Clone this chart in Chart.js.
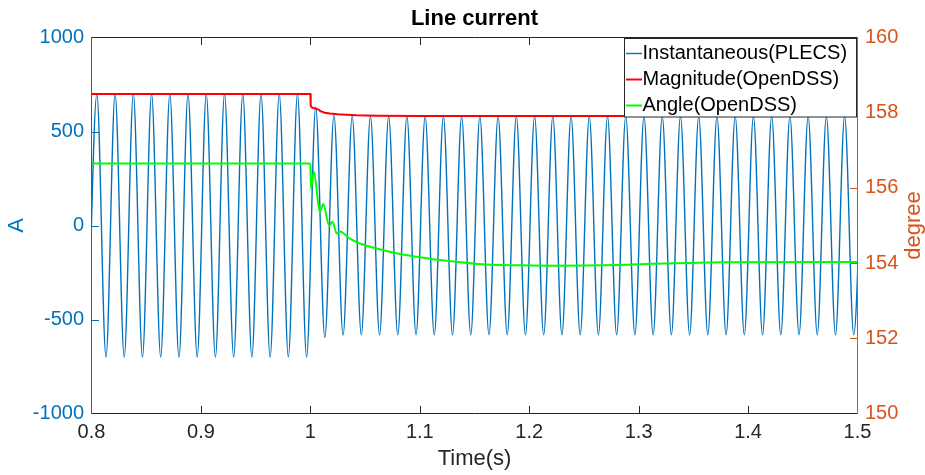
<!DOCTYPE html>
<html lang="en">
<head>
  <meta charset="UTF-8" />
  <title>Line current</title>
  <script src="https://cdn.jsdelivr.net/npm/chart.js"></script>
  <style>
    body {
      margin: 0;
      background: #ffffff;
    }
    canvas {
      display: block;
    }
  </style>
</head>
<body>
  <canvas id="currentChart" width="925" height="475"></canvas>

  <script>
    // instantaneous current (PLECS): one point per peak / trough, 60 Hz
    const waveTimes = [
      0.79657, 0.80490, 0.81323, 0.82157, 0.82990, 0.83823, 0.84657, 0.85490, 0.86323, 0.87157, 0.87990, 0.88823,
      0.89657, 0.90490, 0.91323, 0.92157, 0.92990, 0.93823, 0.94657, 0.95490, 0.96323, 0.97157, 0.97990, 0.98823,
      0.99657, 1.00490, 1.01323, 1.02157, 1.02990, 1.03823, 1.04657, 1.05490, 1.06323, 1.07157, 1.07990, 1.08823,
      1.09657, 1.10490, 1.11323, 1.12157, 1.12990, 1.13823, 1.14657, 1.15490, 1.16323, 1.17157, 1.17990, 1.18823,
      1.19657, 1.20490, 1.21323, 1.22157, 1.22990, 1.23823, 1.24657, 1.25490, 1.26323, 1.27157, 1.27990, 1.28823,
      1.29657, 1.30490, 1.31323, 1.32157, 1.32990, 1.33823, 1.34657, 1.35490, 1.36323, 1.37157, 1.37990, 1.38823,
      1.39657, 1.40490, 1.41323, 1.42157, 1.42990, 1.43823, 1.44657, 1.45490, 1.46323, 1.47157, 1.47990, 1.48823,
      1.49657, 1.50490
    ];
    const waveValues = [
      -700, 700, -700, 700, -700, 700, -700, 700, -700, 700, -700, 700,
      -700, 700, -700, 700, -700, 700, -700, 700, -700, 700, -700, 700,
      -700, 630, -596, 587, -583, 582, -582, 582, -582, 582, -582, 582,
      -582, 582, -582, 582, -582, 582, -582, 582, -582, 582, -582, 582,
      -582, 582, -582, 582, -582, 582, -582, 582, -582, 582, -582, 582,
      -582, 582, -582, 582, -582, 582, -582, 582, -582, 582, -582, 582,
      -582, 582, -582, 582, -582, 582, -582, 582, -582, 582, -582, 582,
      -582, 582
    ];

    // current magnitude (OpenDSS), A
    const magTimes = [0.8, 1.0, 1.0003, 1.0012, 1.0042, 1.0070, 1.0088, 1.0130, 1.0179, 1.0250, 1.0331, 1.0423, 1.0600, 1.1000, 1.5];
    const magValues = [700, 700, 640, 628, 622, 618, 610, 600, 596, 592, 589, 586, 584, 583, 583];

    // current angle (OpenDSS), degree
    const angleTimes = [
      0.8, 1.0, 1.0004, 1.0007, 1.0032, 1.0087, 1.0117, 1.0172, 1.0203, 1.0240, 1.0270, 1.0361, 1.0452,
      1.0605, 1.0788, 1.0971, 1.1245, 1.1611, 1.1915, 1.2217, 1.2829, 1.3131, 1.3439, 1.3743, 1.5
    ];
    const angleValues = [
      156.65, 156.65, 156.2, 155.98, 156.43, 155.36, 155.57, 155.0, 155.1, 154.79, 154.84, 154.65, 154.52,
      154.39, 154.26, 154.17, 154.06, 153.96, 153.94, 153.93, 153.95, 153.98, 154.0, 154.02, 154.03
    ];

    const timeTicks = [0.8, 0.9, 1, 1.1, 1.2, 1.3, 1.4, 1.5];
    const ampTicks = [-1000, -500, 0, 500, 1000];
    const degTicks = [150, 152, 154, 156, 158, 160];

    const FONT = "'Liberation Sans', Arial, Helvetica, sans-serif";
    const BLUE = '#0072BD';
    const ORANGE = '#D95319';
    const DARK = '#262626';

    function pairs(xs, ys) {
      return xs.map((x, i) => ({ x: x, y: ys[i] }));
    }

    function line(ctx, x1, y1, x2, y2) {
      ctx.beginPath();
      ctx.moveTo(x1, y1);
      ctx.lineTo(x2, y2);
      ctx.stroke();
    }

    function useTicks(values) {
      return scale => { scale.ticks = values.map(v => ({ value: v })); };
    }

    // box around the axes, inward tick marks, legend and right axis label
    const frame = {
      id: 'frame',
      afterDatasetsDraw(chart) {
        const { ctx, chartArea: a, scales } = chart;
        const len = 7.5;
        ctx.save();
        ctx.lineWidth = 1;

        ctx.strokeStyle = DARK;
        line(ctx, a.left, a.top, a.right, a.top);
        line(ctx, a.left, a.bottom, a.right, a.bottom);
        timeTicks.slice(1, -1).forEach(v => {
          const x = Math.round(scales.x.getPixelForValue(v)) + 0.5;
          line(ctx, x, a.bottom, x, a.bottom - len);
          line(ctx, x, a.top, x, a.top + len);
        });

        ctx.strokeStyle = BLUE;
        line(ctx, a.left, a.top - 0.5, a.left, a.bottom + 0.5);
        ampTicks.slice(1, -1).forEach(v => {
          const y = Math.round(scales.y.getPixelForValue(v)) + 0.5;
          line(ctx, a.left, y, a.left + len, y);
        });

        ctx.strokeStyle = ORANGE;
        line(ctx, a.right, a.top - 0.5, a.right, a.bottom + 0.5);
        degTicks.slice(1, -1).forEach(v => {
          const y = Math.round(scales.y1.getPixelForValue(v)) + 0.5;
          line(ctx, a.right, y, a.right - len, y);
        });
        ctx.restore();
      },
      afterDraw(chart) {
        const { ctx, chartArea: a } = chart;
        ctx.save();

        // legend
        ctx.fillStyle = '#ffffff';
        ctx.fillRect(624.5, 38.5, 232, 78.5);
        ctx.strokeStyle = DARK;
        ctx.lineWidth = 1;
        ctx.strokeRect(624.5, 38.5, 232, 78.5);
        ctx.font = '20px ' + FONT;
        ctx.textBaseline = 'middle';
        ctx.textAlign = 'left';
        chart.data.datasets.forEach((ds, i) => {
          const y = 53.5 + i * 26;
          ctx.strokeStyle = ds.borderColor;
          ctx.lineWidth = ds.borderWidth;
          line(ctx, 626, y, 642, y);
          ctx.fillStyle = '#000000';
          ctx.fillText(ds.label, 642.5, y);
        });

        // right axis label, reading bottom to top
        ctx.translate(914, (a.top + a.bottom) / 2);
        ctx.rotate(-Math.PI / 2);
        ctx.textAlign = 'center';
        ctx.fillStyle = ORANGE;
        ctx.font = '22px ' + FONT;
        ctx.fillText('degree', 0, 0);
        ctx.restore();
      }
    };

    new Chart(document.getElementById('currentChart'), {
      type: 'line',
      data: {
        datasets: [
          {
            label: 'Instantaneous(PLECS)',
            data: pairs(waveTimes, waveValues),
            yAxisID: 'y',
            borderColor: BLUE,
            borderWidth: 1.4,
            pointRadius: 0,
            cubicInterpolationMode: 'monotone',
            order: 3
          },
          {
            label: 'Magnitude(OpenDSS)',
            data: pairs(magTimes, magValues),
            yAxisID: 'y',
            borderColor: '#FF0000',
            borderWidth: 2,
            pointRadius: 0,
            order: 1
          },
          {
            label: 'Angle(OpenDSS)',
            data: pairs(angleTimes, angleValues),
            yAxisID: 'y1',
            borderColor: '#00FF00',
            borderWidth: 2,
            pointRadius: 0,
            cubicInterpolationMode: 'monotone',
            order: 2
          }
        ]
      },
      options: {
        responsive: false,
        animation: false,
        devicePixelRatio: 1,
        layout: { padding: 0 },
        plugins: {
          legend: { display: false },
          tooltip: { enabled: false },
          title: {
            display: true,
            text: 'Line current',
            fullSize: false,
            color: '#000000',
            font: { family: FONT, size: 22, weight: 'bold' },
            padding: { top: 6, bottom: 5.1 }
          }
        },
        scales: {
          x: {
            type: 'linear',
            min: 0.8,
            max: 1.5,
            afterBuildTicks: useTicks(timeTicks),
            afterFit: s => { s.height = 61.5; },
            grid: { display: false, drawTicks: false },
            border: { display: false },
            ticks: {
              color: DARK,
              font: { family: FONT, size: 20 },
              padding: 7,
              maxRotation: 0,
              autoSkip: false,
              callback: v => String(v)
            },
            title: {
              display: true,
              text: 'Time(s)',
              color: DARK,
              font: { family: FONT, size: 22 },
              padding: { top: 0, bottom: 3 }
            }
          },
          y: {
            position: 'left',
            min: -1000,
            max: 1000,
            afterBuildTicks: useTicks(ampTicks),
            afterFit: s => { s.width = 91.5; },
            grid: { display: false, drawTicks: false },
            border: { display: false },
            ticks: {
              color: BLUE,
              font: { family: FONT, size: 20 },
              padding: 7.5,
              callback: v => String(v)
            },
            title: {
              display: true,
              text: 'A',
              color: BLUE,
              font: { family: FONT, size: 22 },
              padding: { top: 4, bottom: 0 }
            }
          },
          y1: {
            position: 'right',
            min: 150,
            max: 160,
            afterBuildTicks: useTicks(degTicks),
            afterFit: s => { s.width = 67.5; },
            grid: { display: false, drawTicks: false },
            border: { display: false },
            ticks: {
              color: ORANGE,
              font: { family: FONT, size: 20 },
              padding: 7.5,
              callback: v => String(v)
            }
          }
        }
      },
      plugins: [frame]
    });
  </script>
</body>
</html>
